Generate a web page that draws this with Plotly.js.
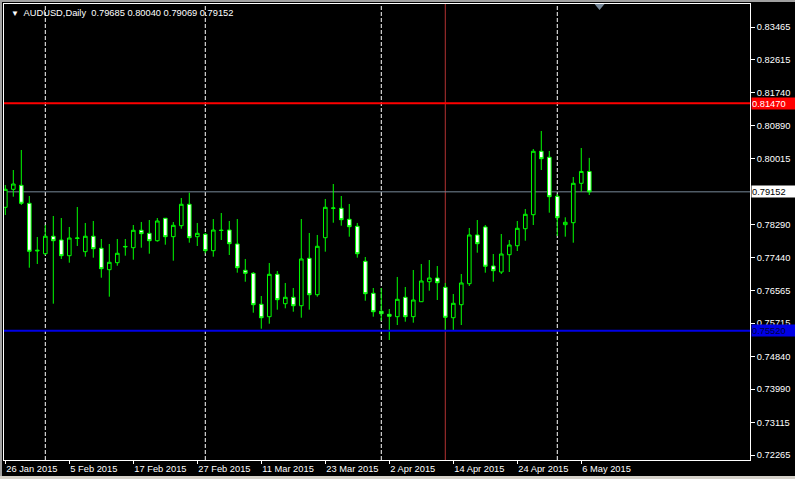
<!DOCTYPE html>
<html><head><meta charset="utf-8">
<script src="https://cdn.plot.ly/plotly-3.0.1.min.js"></script>
<style>html,body{margin:0;padding:0;background:#000;overflow:hidden}#chart{width:795px;height:479px}</style>
</head><body><div id="chart"></div>
<script>
const dates = ['26 Jan 2015','27 Jan 2015','28 Jan 2015','29 Jan 2015','30 Jan 2015',
'2 Feb 2015','3 Feb 2015','4 Feb 2015','5 Feb 2015','6 Feb 2015','9 Feb 2015','10 Feb 2015','11 Feb 2015','12 Feb 2015','13 Feb 2015',
'16 Feb 2015','17 Feb 2015','18 Feb 2015','19 Feb 2015','20 Feb 2015','23 Feb 2015','24 Feb 2015','25 Feb 2015','26 Feb 2015','27 Feb 2015',
'2 Mar 2015','3 Mar 2015','4 Mar 2015','5 Mar 2015','6 Mar 2015','9 Mar 2015','10 Mar 2015','11 Mar 2015','12 Mar 2015','13 Mar 2015',
'16 Mar 2015','17 Mar 2015','18 Mar 2015','19 Mar 2015','20 Mar 2015','23 Mar 2015','24 Mar 2015','25 Mar 2015','26 Mar 2015','27 Mar 2015',
'30 Mar 2015','31 Mar 2015','1 Apr 2015','2 Apr 2015','3 Apr 2015','6 Apr 2015','7 Apr 2015','8 Apr 2015','9 Apr 2015','10 Apr 2015',
'13 Apr 2015','14 Apr 2015','15 Apr 2015','16 Apr 2015','17 Apr 2015','20 Apr 2015','21 Apr 2015','22 Apr 2015','23 Apr 2015','24 Apr 2015',
'27 Apr 2015','28 Apr 2015','29 Apr 2015','30 Apr 2015','1 May 2015','4 May 2015','5 May 2015','6 May 2015','7 May 2015'];

const open = [0.78747,0.79218,0.79323,0.78852,0.77604,0.77533,0.77989,0.77892,0.77481,0.77931,
0.77586,0.77989,0.77675,0.77115,0.77298,0.77709,0.77690,0.78146,0.78067,0.77873,
0.78460,0.77978,0.78266,0.78826,0.77978,0.78041,0.77612,0.78140,0.78153,0.77787,
0.77099,0.77020,0.76209,0.75885,0.76994,0.76225,0.76392,0.76172,0.77413,0.76460,
0.77952,0.78721,0.78721,0.78433,0.78250,0.77334,0.76497,0.76026,0.75947,0.75885,
0.76392,0.75885,0.76277,0.76800,0.76897,0.76654,0.75858,0.76199,0.76748,0.78023,
0.78232,0.77211,0.77054,0.77507,0.77742,0.78187,0.78554,0.80213,0.80056,0.79035,
0.78292,0.78344,0.79375,0.79685];

const high = [0.79331,0.79723,0.80247,0.79043,0.77970,0.78284,0.78520,0.78467,0.78232,0.78755,
0.78337,0.78389,0.77918,0.77787,0.77918,0.77918,0.78284,0.78363,0.78415,0.78467,
0.78467,0.78363,0.78991,0.79129,0.78337,0.78075,0.78441,0.78598,0.78389,0.78441,
0.77395,0.77054,0.76426,0.77290,0.77081,0.76767,0.76636,0.78441,0.78075,0.78023,
0.78965,0.79357,0.79043,0.78834,0.78337,0.77447,0.76636,0.76636,0.76086,0.76924,
0.76662,0.77107,0.77264,0.77368,0.77211,0.76767,0.76479,0.77002,0.78206,0.78415,
0.78284,0.77525,0.78049,0.77892,0.78389,0.78703,0.80273,0.80744,0.80221,0.79095,
0.78486,0.79540,0.80299,0.80040];

const low = [0.78546,0.79025,0.78808,0.77167,0.77264,0.77499,0.76225,0.77395,0.77298,0.77735,
0.77455,0.77429,0.76905,0.76408,0.77219,0.77481,0.77376,0.77690,0.77533,0.77847,
0.77769,0.77350,0.78187,0.77821,0.77735,0.77544,0.77455,0.77892,0.77499,0.77036,
0.76800,0.75989,0.75571,0.75701,0.76068,0.76104,0.76015,0.75858,0.76068,0.76408,
0.77586,0.78344,0.78266,0.77978,0.77429,0.76303,0.75885,0.75780,0.75275,0.75667,
0.75754,0.75728,0.76269,0.76565,0.76322,0.75537,0.75537,0.75667,0.76688,0.77559,
0.77036,0.76800,0.77002,0.77054,0.77604,0.77873,0.78284,0.79723,0.78606,0.77996,
0.77978,0.77821,0.79156,0.79069];

const close = [0.79218,0.79357,0.78852,0.77596,0.77622,0.77989,0.77873,0.77481,0.77944,0.77944,
0.77989,0.77664,0.77141,0.77308,0.77544,0.77722,0.78146,0.78057,0.77873,0.78389,
0.77978,0.78276,0.78826,0.77952,0.78067,0.77612,0.78153,0.78146,0.77795,0.77167,
0.77020,0.76199,0.75858,0.76994,0.76330,0.76392,0.76172,0.77395,0.76460,0.77727,
0.78747,0.78729,0.78423,0.78240,0.77533,0.76487,0.76015,0.75963,0.75895,0.76340,
0.75885,0.76322,0.76819,0.76897,0.76774,0.75869,0.76235,0.76767,0.78023,0.77795,
0.77204,0.77088,0.77525,0.77761,0.78198,0.78564,0.80213,0.80019,0.79025,0.78475,
0.78355,0.79375,0.79685,0.79152];

const tickLabels = ['26 Jan 2015','5 Feb 2015','17 Feb 2015','27 Feb 2015','11 Mar 2015','23 Mar 2015','2 Apr 2015','14 Apr 2015','24 Apr 2015','6 May 2015'];
const priceTicks = [0.83465,0.82615,0.81740,0.80890,0.80015,0.78290,0.77440,0.76565,0.75715,0.74840,0.73990,0.73115,0.72265];
const monthStarts = ['2 Feb 2015','2 Mar 2015','1 Apr 2015','1 May 2015'];
const markerDate = '13 Apr 2015';
const resistance = 0.81470;
const support = 0.75520;
const bid = 0.79152;
const symbolName = 'AUDUSD,Daily';

const FONT = 'Liberation Sans, Arial, sans-serif';
const FS = 9.3;
const x = dates.map((d, i) => i);
const idx = d => dates.indexOf(d);
const last = dates.length - 1;

const trace = {
  type: 'candlestick', x: x, open: open, high: high, low: low, close: close,
  increasing: {line: {color: '#00ff00', width: 1}, fillcolor: '#000000'},
  decreasing: {line: {color: '#00ff00', width: 1}, fillcolor: '#ffffff'},
  whiskerwidth: 0, hoverinfo: 'skip', showlegend: false
};

const shapes = [];
monthStarts.forEach(d => shapes.push({type: 'line', xref: 'x', yref: 'paper', x0: idx(d), x1: idx(d), y0: 0, y1: 1,
  line: {color: '#ffffff', width: 1, dash: '4px,2px'}, layer: 'below'}));
shapes.push({type: 'line', xref: 'x', yref: 'paper', x0: idx(markerDate), x1: idx(markerDate), y0: 0, y1: 1,
  line: {color: '#b43232', width: 1}, layer: 'below'});
shapes.push({type: 'line', xref: 'paper', yref: 'y', x0: 0, x1: 1, y0: bid, y1: bid, line: {color: '#778899', width: 1}, layer: 'below'});
shapes.push({type: 'line', xref: 'paper', yref: 'y', x0: 0, x1: 1, y0: resistance, y1: resistance, line: {color: '#ff0000', width: 2}});
shapes.push({type: 'line', xref: 'paper', yref: 'y', x0: 0, x1: 1, y0: support, y1: support, line: {color: '#0000e6', width: 2}});
// chart-shift marker
shapes.push({type: 'path', xref: 'paper', yref: 'paper', xsizemode: 'pixel', ysizemode: 'pixel',
  xanchor: 0.7983, yanchor: 1, path: 'M -5,0 L 5,0 L 0,-6 Z', fillcolor: '#778899', line: {width: 0}});
// window border strips
shapes.push({type: 'rect', xref: 'paper', yref: 'paper', x0: -4/746, x1: -2/746, y0: -19/456, y1: 1 + 4/456, fillcolor: '#a0a0a0', line: {width: 0}});
shapes.push({type: 'rect', xref: 'paper', yref: 'paper', x0: -4/746, x1: 1 + 45/746, y0: 1 + 2/456, y1: 1 + 4/456, fillcolor: '#a0a0a0', line: {width: 0}});
shapes.push({type: 'rect', xref: 'paper', yref: 'paper', x0: -4/746, x1: 1 + 45/746, y0: -19/456, y1: -16/456, fillcolor: '#d4d0c8', line: {width: 0}});

function priceLabel(v, bg, fg) {
  return {xref: 'paper', x: 1, xanchor: 'left', xshift: 1, yref: 'y', y: v, yanchor: 'middle',
    text: v.toFixed(5), showarrow: false, bgcolor: bg, font: {family: FONT, size: FS, color: fg},
    width: 44, height: 11, align: 'left', borderpad: 0};
}

const annotations = [
  priceLabel(resistance, '#ff0000', '#ffffff'),
  priceLabel(bid, '#ffffff', '#000000'),
  priceLabel(support, '#0000e6', '#000040'),
  {xref: 'paper', yref: 'paper', x: 5/746, y: 1 - 9/456, xanchor: 'left', yanchor: 'middle', showarrow: false,
   text: '<span style="font-size:8px">▼</span>&nbsp; ' + symbolName + '&nbsp;&nbsp;' +
     [open[last], high[last], low[last], close[last]].map(v => v.toFixed(5)).join(' '),
   font: {family: FONT, size: FS, color: '#ffffff'}}
];

const layout = {
  width: 795, height: 479,
  paper_bgcolor: '#000000', plot_bgcolor: '#000000',
  margin: {l: 4, r: 45, t: 4, b: 19, pad: 0},
  showlegend: false, boxgap: 0.35,
  font: {family: FONT, size: FS, color: '#ffffff'},
  xaxis: {
    range: [-0.1625, 93.09], showgrid: false, zeroline: false, rangeslider: {visible: false},
    tickmode: 'array', tickvals: tickLabels.map(idx), ticktext: tickLabels, tickangle: 0,
    ticks: 'outside', ticklen: 3, tickcolor: '#ffffff', ticklabelposition: 'outside right',
    showline: true, mirror: true, linecolor: '#ffffff', linewidth: 1,
    tickfont: {family: FONT, size: FS, color: '#ffffff'}, fixedrange: true
  },
  yaxis: {
    side: 'right', range: [0.72135, 0.84067], showgrid: false, zeroline: false,
    tickmode: 'array', tickvals: priceTicks, ticktext: priceTicks.map(v => v.toFixed(5)),
    ticks: 'outside', ticklen: 4, tickcolor: '#ffffff',
    showline: true, mirror: true, linecolor: '#ffffff', linewidth: 1,
    tickfont: {family: FONT, size: FS, color: '#ffffff'}, fixedrange: true
  },
  shapes: shapes, annotations: annotations
};

Plotly.newPlot('chart', [trace], layout, {staticPlot: true, displayModeBar: false});
</script></body></html>
